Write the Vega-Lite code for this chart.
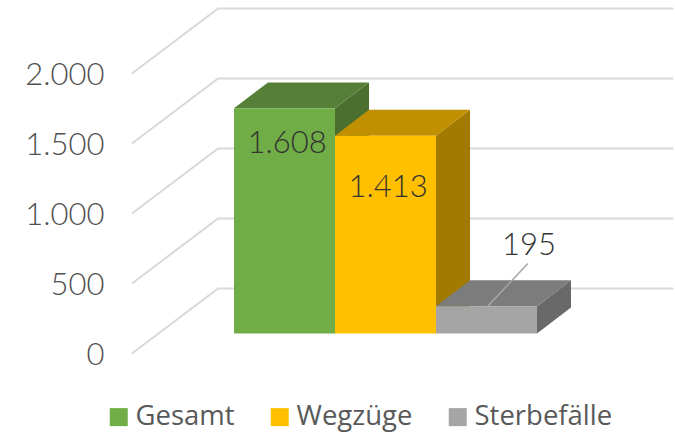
{
"$schema":"https://vega.github.io/schema/vega-lite/v6.json",
"width":675,"height":433,"padding":0,"autosize":"none","background":"white",
"config":{"view":{"stroke":null}},
"datasets":{
"grid":[
{"level":0,"x":-1.01,"y":0},{"level":0,"x":-0.158,"y":464.3},{"level":0,"x":4.35,"y":464.3},
{"level":500,"x":-1.01,"y":500},{"level":500,"x":-0.158,"y":964.3},{"level":500,"x":4.35,"y":964.3},
{"level":1000,"x":-1.01,"y":1000},{"level":1000,"x":-0.158,"y":1464.3},{"level":1000,"x":4.35,"y":1464.3},
{"level":1500,"x":-1.01,"y":1500},{"level":1500,"x":-0.158,"y":1964.3},{"level":1500,"x":4.35,"y":1964.3},
{"level":2000,"x":-1.01,"y":2000},{"level":2000,"x":-0.158,"y":2464.3},{"level":2000,"x":4.35,"y":2464.3}
],
"side":[
{"series":"Gesamt","x":1,"y":142.9,"y2":1750.9},{"series":"Gesamt","x":1.3366,"y":328.6,"y2":1936.6},
{"series":"Wegzüge","x":2,"y":142.9,"y2":1555.9},{"series":"Wegzüge","x":2.3366,"y":328.6,"y2":1741.6},
{"series":"Sterbefälle","x":3,"y":142.9,"y2":337.9},{"series":"Sterbefälle","x":3.3366,"y":328.6,"y2":523.6}
],
"top":[
{"series":"Gesamt","y":1750.9,"x":0,"x2":1},{"series":"Gesamt","y":1936.6,"x":0.3366,"x2":1.3366},
{"series":"Wegzüge","y":1555.9,"x":1,"x2":2},{"series":"Wegzüge","y":1741.6,"x":1.3366,"x2":2.3366},
{"series":"Sterbefälle","y":337.9,"x":2,"x2":3},{"series":"Sterbefälle","y":523.6,"x":2.3366,"x2":3.3366}
],
"front":[
{"series":"Gesamt","value":1608,"x":0,"x2":1,"y":142.9,"y2":1750.9},
{"series":"Wegzüge","value":1413,"x":1,"x2":2,"y":142.9,"y2":1555.9},
{"series":"Sterbefälle","value":195,"x":2,"x2":3,"y":142.9,"y2":337.9}
],
"leader":[{"x":2.5,"y":328,"x2":2.91,"y2":643}],
"labels":[
{"label":"1.608","x":0.525,"y":1497},
{"label":"1.413","x":1.525,"y":1180},
{"label":"195","x":2.92,"y":767}
]
},
"encoding":{
"x":{"field":"x","type":"quantitative","scale":{"domain":[-2.31683,4.36634],"nice":false,"zero":false},"axis":null},
"y":{"field":"y","type":"quantitative","scale":{"domain":[-567.86,2525],"nice":false,"zero":false},
"axis":{"title":null,"orient":"left","offset":-104,"values":[0,500,1000,1500,2000],"domain":false,"ticks":false,"grid":false,"labelPadding":0,"labelOffset":2,"labelFont":"Lato","labelFontSize":31,"labelFontWeight":300,"labelColor":"#4f4f4f",
"labelExpr":"replace(format(datum.value, ','), ',', '.')"}}
},
"layer":[
{"data":{"name":"grid"},"mark":{"type":"line","color":"#d9d9d9","strokeWidth":2},"encoding":{"detail":{"field":"level"}}},
{"data":{"name":"side"},"mark":{"type":"area"},"encoding":{"y2":{"field":"y2"},"color":{"field":"series","scale":{"domain":["Gesamt","Wegzüge","Sterbefälle"],"range":["#4a6f2e","#a27a00","#696969"]},"legend":null}}},
{"data":{"name":"top"},"mark":{"type":"area","orient":"horizontal"},"encoding":{"x2":{"field":"x2"},"color":{"field":"series","scale":{"domain":["Gesamt","Wegzüge","Sterbefälle"],"range":["#568037","#c09000","#7c7c7c"]},"legend":null}}},
{"data":{"name":"front"},"mark":{"type":"rect"},"encoding":{"x2":{"field":"x2"},"y2":{"field":"y2"},"color":{"field":"series","scale":{"domain":["Gesamt","Wegzüge","Sterbefälle"],"range":["#70ad47","#ffc000","#a5a5a5"]},
"legend":{"title":null,"orient":"none","legendX":105,"legendY":403,"direction":"horizontal","symbolType":"square","symbolSize":324,"symbolStrokeWidth":0,"labelFont":"Open Sans","labelFontSize":27.5,"labelColor":"#595959","columnPadding":31,"labelOffset":3}}}},
{"data":{"name":"leader"},"mark":{"type":"rule","color":"#a6a6a6","strokeWidth":1.5},"encoding":{"x2":{"field":"x2"},"y2":{"field":"y2"}}},
{"data":{"name":"labels"},"mark":{"type":"text","font":"Lato","fontSize":31,"fontWeight":300,"color":"#333333","align":"center","baseline":"middle"},"encoding":{"text":{"field":"label"}}}
],
"resolve":{"scale":{"color":"independent"}}
}
